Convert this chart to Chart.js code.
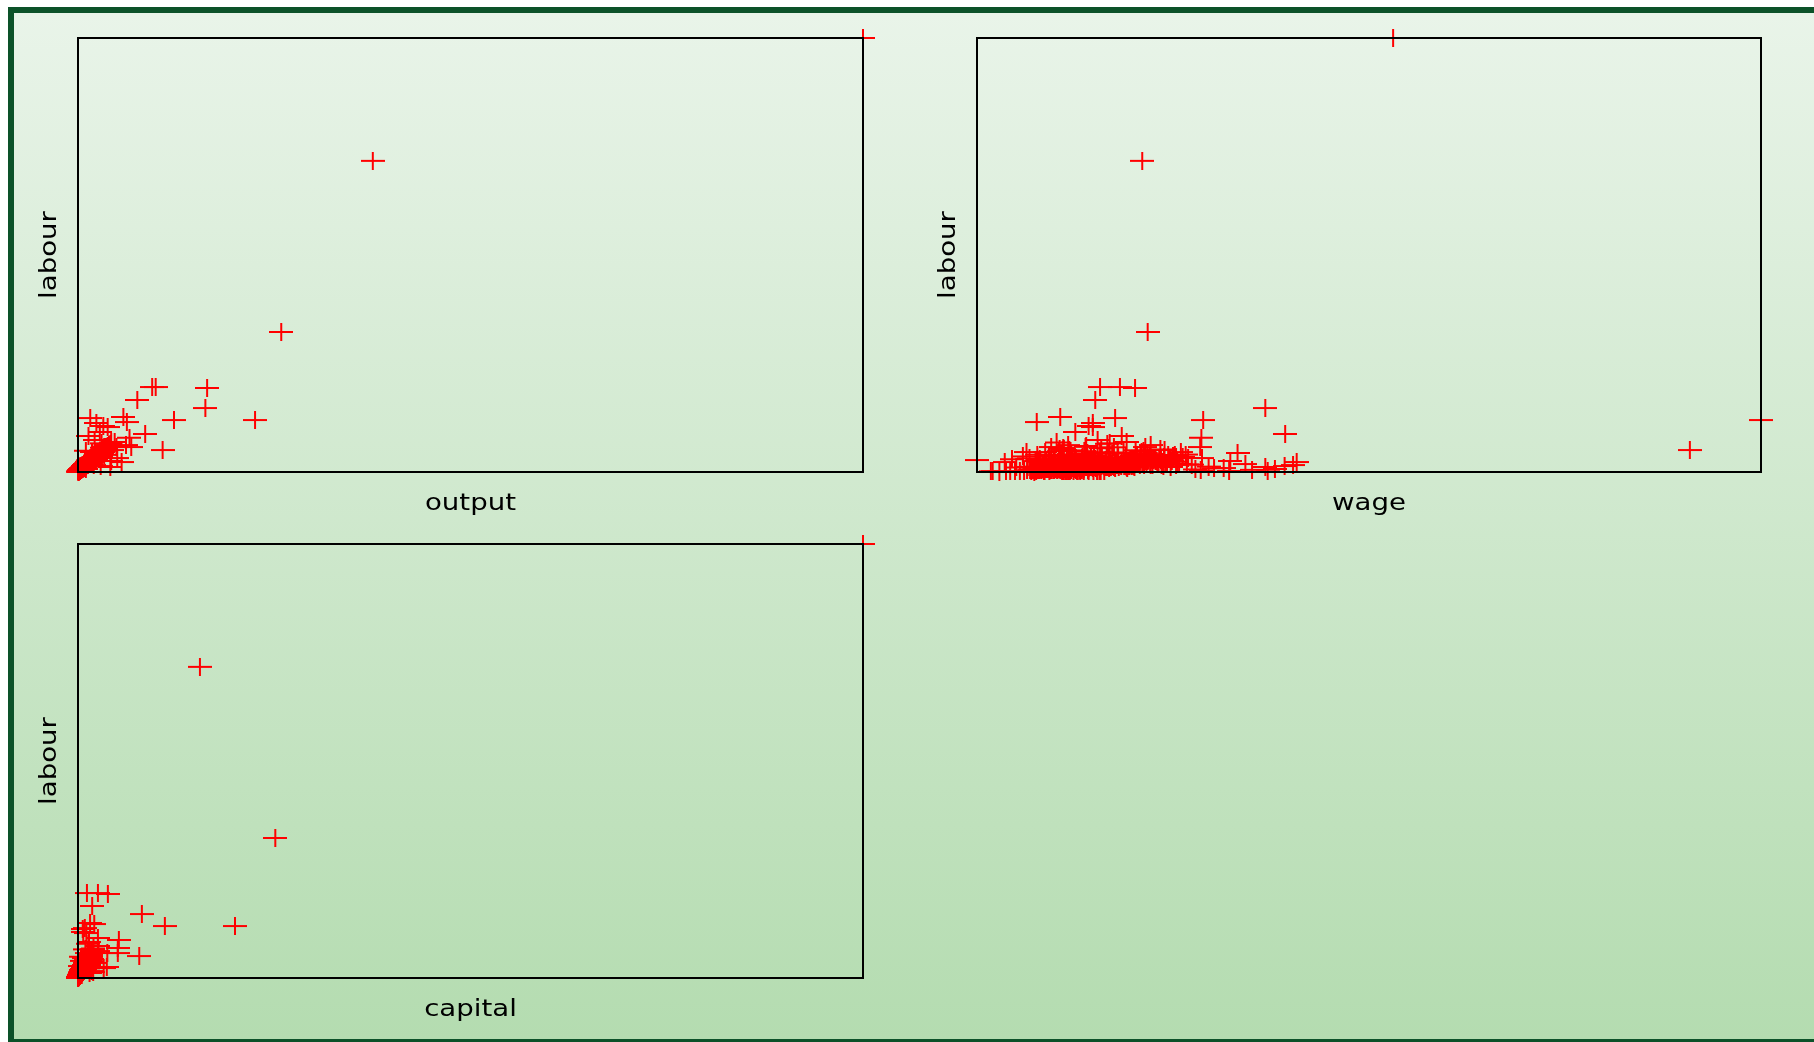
<!DOCTYPE html>
<html>
<head>
<meta charset="utf-8">
<script src="https://cdn.jsdelivr.net/npm/chart.js@4"></script>
<style>
html,body{margin:0;padding:0;background:#ffffff;overflow:hidden;width:1814px;height:1042px;}
#frame{position:absolute;left:8px;top:7px;width:1900px;height:1026px;border:6px solid #0c5229;background:linear-gradient(to bottom,#e9f4e9,#b4dcb0);}
canvas{position:absolute;}
</style>
</head>
<body>
<div id="frame"></div>
<canvas id="c1" width="885" height="516" style="left:18px;top:14px;width:885px;height:516px"></canvas>
<canvas id="c2" width="884" height="516" style="left:922px;top:14px;width:884px;height:516px"></canvas>
<canvas id="c3" width="885" height="516" style="left:18px;top:520px;width:885px;height:516px"></canvas>
<script>
// ---- data ----
const labour = [
5000,3585,1613,979,979,968,830,737,599,599,622,634,576,438,253,288,115,58,518,461,346,288,369,219,161,311,395,230,530,415,127,138,565,253,288,69,198,174,245,330,92,46,35,80,
30,62,18,85,44,12,25,9,
12,45,23,88,7,150,34,61,19,102,
28,9,73,41,130,16,55,210,38,67,
5,84,26,112,47,14,95,31,176,58,
21,140,36,11,79,52,8,123,43,66,
18,98,30,185,62,25,49,13,107,71,
40,6,156,33,87,22,118,57,15,92,
27,64,10,135,44,76,20,162,35,53,
17,104,39,69,4,145,29,81,48,24,
116,59,32,195,14,74,42,9,126,50,
37,86,21,60,168,27,46,110,19,78,
55,8,99,34,142,23,65,12,89,43,
230,30,72,16,52,121,39,7,83,26,
47,137,18,63,97,31,11,180,56,36,
24,75,41,6,113,68,15,51,152,28,
91,35,20,128,44,62,10,85,33,70,
13,54,201,29,94,40,17,108,58,22,
80,37,132,26,49,9,71,45,164,32,
61,19,100,42,15,77,53,25,146,38,
11,66,30,119,48,21,86,57,8,103,
34,171,27,59,14,93,44,23,125,67,
65,140,88,210,52,175,118,96,260,73,
150,84,190,58,125,240,101,69,165,132,
47,205,110,78,300,93,156,62,220,128,
185,71,134,250,90,115,56,170,104,280,
82,160,99,196,66,145,230,121,75,180,
110,54,270,138,87,200,63,152,94,325,
143,76,215,107,168,59,245,126,85,190,
97,175,68,135,290,80,112,225,61,158,
120,92,255,72,148,186,103,57,212,139,
70,130,98,310,83,163,116,235,50,178,
155,89,198,64,122,265,106,74,147,220,
86,240,117,60,172,95,132,203,79,110,
195,67,128,285,91,154,100,228,58,166,
102,182,77,141,248,88,119,53,208,136,
73,160,111,340,96,187,68,131,275,84
];
const output = [
90,33.8,23.3,8.5,8.9,14.8,6.8,14.6,11.0,20.3,1.4,5.2,5.6,7.7,9.7,6.1,5.0,3.7,3.4,2.5,4.2,3.3,1.9,2.8,4.5,5.5,5.9,1.6,2.9,1.2,3.8,2.0,2.1,3.9,4.4,2.6,3.0,2.4,0.9,2.7,1.5,0.8,0.9,1.8,
0.34,0.58,0.20,1.02,0.49,0.14,0.29,0.10,
0.15,0.42,0.31,0.95,0.06,1.62,0.28,0.74,0.22,1.30,
0.35,0.12,0.66,0.58,1.21,0.14,0.71,2.35,0.39,0.92,
0.08,0.77,0.37,1.48,0.45,0.19,1.02,0.26,1.95,0.83,
0.21,1.88,0.47,0.09,0.69,0.64,0.11,1.15,0.51,0.61,
0.24,1.33,0.29,2.62,0.55,0.33,0.48,0.13,0.99,0.88,
0.53,0.05,1.41,0.44,1.10,0.25,1.57,0.52,0.18,0.81,
0.30,0.86,0.10,1.73,0.40,1.05,0.27,2.10,0.36,0.67,
0.16,1.12,0.50,0.79,0.04,2.05,0.34,0.73,0.62,0.28,
1.25,0.70,0.41,2.20,0.16,0.84,0.46,0.07,1.66,0.57,
0.43,0.98,0.23,0.65,2.48,0.31,0.55,1.38,0.20,0.90,
0.60,0.10,1.18,0.38,1.52,0.26,0.80,0.14,1.07,0.49,
2.90,0.36,0.76,0.17,0.59,1.45,0.42,0.09,0.94,0.29,
0.54,1.60,0.20,0.72,1.15,0.35,0.12,2.30,0.63,0.40,
0.27,0.85,0.48,0.07,1.28,0.78,0.15,0.56,1.80,0.33,
1.00,0.39,0.22,1.50,0.52,0.68,0.12,1.03,0.37,0.75,
0.15,0.63,2.55,0.32,1.09,0.47,0.19,1.20,0.66,0.24,
0.88,0.45,1.36,0.30,0.58,0.11,0.82,0.50,1.98,0.38,
0.69,0.21,1.14,0.51,0.17,0.87,0.61,0.28,1.70,0.44,
0.13,0.74,0.33,1.35,0.53,0.24,0.96,0.64,0.09,1.17,
0.40,2.00,0.31,0.67,0.16,1.06,0.49,0.26,1.42,0.77,
0.62,1.70,0.95,2.05,0.48,2.30,1.05,1.22,3.10,0.70,
1.35,1.08,2.45,0.52,1.60,2.70,0.90,0.85,1.80,1.25,
0.55,2.60,1.40,0.66,3.40,1.15,1.50,0.78,2.25,1.65,
1.95,0.92,1.30,3.00,0.80,1.45,0.60,2.15,1.20,2.80,
1.02,1.55,1.25,2.40,0.74,1.85,2.05,1.10,0.96,2.20,
1.18,0.70,3.25,1.70,0.88,2.10,0.82,1.95,1.00,3.70,
1.45,0.98,2.55,1.35,1.70,0.64,3.05,1.40,1.12,2.00,
1.06,2.25,0.88,1.20,3.00,1.03,1.32,2.75,0.68,1.75,
1.50,0.95,2.90,0.90,1.62,2.35,1.08,0.75,2.40,1.52,
0.80,1.58,1.30,3.55,0.93,1.90,1.28,2.60,0.62,2.05,
1.72,1.15,2.25,0.71,1.33,3.15,1.25,0.86,1.68,2.50,
0.97,2.85,1.45,0.76,1.88,1.20,1.55,2.30,0.90,1.38,
2.15,0.84,1.48,3.20,1.10,1.78,1.22,2.65,0.70,1.92,
1.15,2.00,0.99,1.65,2.80,1.08,1.40,0.66,2.45,1.58,
0.85,1.82,1.30,3.80,1.12,2.20,0.77,1.60,3.05,1.00
];
const capital = [
150,23.3,37.7,1.7,3.8,5.7,2.7,12.2,16.6,30.0,3.1,2.3,1.3,7.8,11.7,7.6,4.9,2.2,1.6,3.8,7.6,5.6,3.8,2.6,1.7,3.9,2.0,1.1,1.0,2.1,5.5,0.4,0.9,2.4,1.8,2.9,0.8,3.3,0.6,1.4,1.2,0.5,0.7,2.6,
0.25,0.71,0.12,0.66,0.40,0.09,0.21,0.05,
0.10,0.52,0.18,1.05,0.04,2.10,0.30,0.45,0.25,1.40,
0.22,0.06,0.95,0.35,1.60,0.12,0.62,2.40,0.28,0.80,
0.03,0.70,0.33,1.85,0.40,0.15,1.20,0.20,2.05,0.66,
0.14,1.30,0.48,0.08,0.90,0.55,0.05,1.55,0.38,0.75,
0.20,1.00,0.26,2.60,0.72,0.30,0.44,0.09,1.25,0.58,
0.36,0.02,1.75,0.42,0.85,0.16,1.45,0.50,0.11,1.10,
0.24,0.80,0.07,1.20,0.46,0.98,0.13,1.90,0.32,0.60,
0.12,1.35,0.34,0.64,0.02,1.65,0.27,1.02,0.52,0.19,
1.50,0.68,0.40,2.25,0.10,0.82,0.37,0.06,1.12,0.47,
0.31,1.08,0.17,0.73,1.95,0.28,0.54,1.30,0.15,0.88,
0.65,0.05,1.15,0.29,1.70,0.21,0.78,0.09,0.92,0.41,
2.50,0.33,0.86,0.13,0.48,1.38,0.35,0.04,1.00,0.23,
0.43,1.62,0.16,0.77,1.05,0.34,0.08,2.20,0.57,0.30,
0.21,0.92,0.39,0.03,1.40,0.70,0.11,0.62,1.85,0.25,
1.18,0.30,0.19,1.50,0.50,0.76,0.06,0.96,0.36,0.84,
0.10,0.60,2.30,0.26,1.12,0.44,0.14,1.28,0.69,0.18,
0.95,0.38,1.58,0.22,0.56,0.07,0.81,0.42,1.80,0.29,
0.71,0.17,1.22,0.46,0.12,0.90,0.59,0.20,1.68,0.33,
0.08,0.74,0.31,1.42,0.45,0.18,1.06,0.63,0.05,1.20,
0.37,2.00,0.24,0.67,0.10,1.10,0.49,0.20,1.48,0.79,
0.55,1.25,0.70,1.90,0.38,1.40,1.10,0.82,2.30,0.48,
1.30,0.62,1.75,0.44,0.95,2.20,0.78,0.60,1.55,1.05,
0.32,1.85,0.88,0.70,2.80,0.65,1.45,0.50,1.60,1.20,
1.50,0.58,1.15,2.10,0.76,0.90,0.40,1.65,0.85,2.45,
0.66,1.35,0.92,1.70,0.52,1.10,1.95,1.00,0.60,1.48,
0.98,0.36,2.35,1.22,0.72,1.80,0.45,1.28,0.80,2.90,
1.10,0.64,1.65,0.86,1.52,0.42,2.15,1.02,0.69,1.58,
0.75,1.45,0.52,1.18,2.60,0.66,0.94,1.92,0.46,1.32,
1.05,0.70,2.05,0.58,1.25,1.62,0.88,0.40,1.78,1.15,
0.54,1.08,0.83,2.70,0.68,1.40,0.96,2.00,0.35,1.55,
1.38,0.74,1.66,0.48,1.02,2.25,0.90,0.61,1.20,1.85,
0.70,2.05,1.00,0.47,1.45,0.80,1.12,1.70,0.63,0.92,
1.62,0.55,1.08,2.50,0.77,1.30,0.85,1.95,0.43,1.42,
0.86,1.55,0.62,1.20,2.12,0.73,1.00,0.41,1.75,1.14,
0.60,1.36,0.95,2.95,0.81,1.60,0.56,1.10,2.40,0.69
];
const wage = [
89.0,47.4,48.3,40.4,43.7,46.2,39.6,67.8,57.5,150,42.9,33.8,29.9,71.1,138.2,47.9,73.0,67.8,39.2,36.3,44.8,32.3,40.0,63.2,57.3,48.8,57.2,28.2,38.5,44.0,62.0,20.0,39.2,51.1,57.0,71.0,46.5,53.0,35.5,42.0,64.5,60.9,69.4,72.4,
56.2,58.4,57.1,55.6,59.3,61.8,65.6,68.2,
31.2,38.5,29.4,44.1,24.8,49.6,35.0,41.7,30.3,46.2,
33.8,22.6,40.4,36.1,52.3,32.0,43.5,47.8,30.6,37.9,
29.5,45.0,32.7,50.8,39.2,34.9,42.3,34.4,54.1,36.8,
29.9,48.4,31.6,37.7,41.0,38.0,27.8,46.9,33.1,44.7,
35.6,51.5,30.6,47.2,39.8,30.2,42.9,40.5,37.3,45.6,
32.0,25.5,49.0,34.9,43.8,33.3,53.2,37.0,29.0,40.8,
36.5,44.4,31.1,48.9,31.9,41.4,28.3,55.0,33.5,39.5,
37.1,46.6,35.3,42.6,23.7,50.2,30.9,38.8,44.9,32.4,
47.5,37.6,29.6,52.8,36.0,40.1,34.0,35.4,43.2,36.3,
30.0,45.3,33.3,39.0,51.0,28.9,41.9,48.1,38.4,35.8,
38.2,26.3,46.0,31.4,49.3,37.6,42.0,34.7,44.0,36.0,
53.8,29.4,40.6,36.6,37.1,47.0,32.2,39.3,43.0,30.4,
35.2,50.5,32.1,41.2,45.9,33.6,40.3,48.6,38.6,31.0,
37.3,43.6,36.7,27.1,46.4,39.4,29.8,34.2,52.0,32.8,
44.2,31.8,36.4,49.8,37.4,42.7,34.1,45.8,34.6,40.0,
38.5,38.3,54.6,33.0,47.4,35.5,41.1,50.0,41.5,30.7,
42.4,36.2,48.0,29.2,39.7,35.1,44.6,32.5,51.8,37.7,
40.3,37.0,45.2,35.9,39.9,43.3,38.9,30.1,49.4,33.9,
34.4,41.1,34.5,46.8,37.2,28.8,43.9,39.1,22.3,47.7,
31.5,52.6,36.4,42.2,36.7,44.3,33.2,29.7,48.3,39.9,
30.8,41.3,35.7,47.1,26.5,38.9,44.5,32.6,50.4,36.9,
39.6,33.0,46.5,28.4,42.8,37.8,51.2,34.8,40.7,45.1,
31.7,48.2,36.2,43.1,38.1,53.5,33.9,29.3,41.8,47.9,
35.4,42.5,30.5,46.3,39.0,24.6,44.8,37.5,49.9,34.3,
43.7,32.9,38.7,51.7,36.3,45.4,31.3,40.2,48.8,27.6,
37.9,46.1,33.7,42.1,54.8,30.0,39.8,35.2,44.1,41.6,
32.3,49.1,38.3,36.8,43.4,34.6,47.6,29.7,40.9,52.5,
45.7,35.8,41.0,31.5,38.0,50.6,33.4,44.3,37.2,28.7,
40.5,48.7,34.2,43.9,30.4,39.4,46.8,36.6,42.4,32.7,
38.8,29.9,44.0,35.1,53.0,41.5,37.3,47.3,33.1,40.0,
36.1,42.9,31.9,50.9,39.2,34.4,45.5,38.6,25.8,43.3,
47.0,33.6,40.8,37.0,44.7,30.9,49.6,35.6,41.9,39.1,
34.0,45.9,38.4,42.7,31.0,48.4,36.5,40.4,52.1,37.4,
43.0,32.0,47.7,39.7,35.3,44.9,30.2,41.2,37.8,46.0,
39.3,36.4,42.0,33.2,50.1,38.2,45.2,34.9,40.6,31.2
];
// axis ranges (frame = data range)
const labourRange = [0, 5000];
const outputRange = [0, 90];
const wageRange = [20, 150];
const capitalRange = [0, 150];
const yTitle = 'labour';

// ---- marker ----
const crossImg = document.createElement('canvas');
crossImg.width = 24; crossImg.height = 18;
(function(){
  const g = crossImg.getContext('2d');
  g.fillStyle = '#ff0000';
  g.fillRect(11, 0, 2, 18);
  g.fillRect(0, 8, 24, 2);
})();

function framePlugin(xTitle){
  return {
    id: 'frameAndTitles',
    afterDatasetsDraw(chart){
      const a = chart.chartArea, ctx = chart.ctx;
      ctx.save();
      ctx.strokeStyle = '#000000';
      ctx.lineWidth = 2;
      ctx.strokeRect(a.left, a.top, a.right - a.left, a.bottom - a.top);
      ctx.fillStyle = '#000000';
      ctx.font = '23px "DejaVu Sans"';
      ctx.textAlign = 'center';
      ctx.save();
      ctx.translate((a.left + a.right) / 2, a.bottom + 38);
      ctx.scale(1.2, 1);
      ctx.textBaseline = 'alphabetic';
      ctx.fillText(xTitle, 0, 0);
      ctx.restore();
      ctx.save();
      ctx.translate(a.left - 28, (a.top + a.bottom) / 2);
      ctx.rotate(-Math.PI / 2);
      ctx.scale(1.2, 1);
      ctx.textBaseline = 'middle';
      ctx.fillText(yTitle, 0, 0);
      ctx.restore();
      ctx.restore();
    }
  };
}

function makeChart(id, xs, xr, xTitle, padL, padR){
  return new Chart(document.getElementById(id), {
    type: 'scatter',
    data: { datasets: [{
      data: xs.map((v, i) => ({ x: v, y: labour[i] })),
      pointStyle: crossImg,
      pointRadius: 11,
      pointHoverRadius: 11,
      borderColor: '#ff0000',
      backgroundColor: '#ff0000',
      clip: false
    }]},
    options: {
      responsive: false,
      animation: false,
      devicePixelRatio: 1,
      events: [],
      layout: { padding: { left: padL, right: padR, top: 24, bottom: 58 } },
      plugins: { legend: { display: false }, tooltip: { enabled: false } },
      scales: {
        x: { type: 'linear', min: xr[0], max: xr[1], display: false },
        y: { type: 'linear', min: labourRange[0], max: labourRange[1], display: false }
      }
    },
    plugins: [framePlugin(xTitle)]
  });
}

makeChart('c1', output, outputRange, 'output', 60, 40);
makeChart('c2', wage, wageRange, 'wage', 55, 45);
makeChart('c3', capital, capitalRange, 'capital', 60, 40);
</script>
</body>
</html>
